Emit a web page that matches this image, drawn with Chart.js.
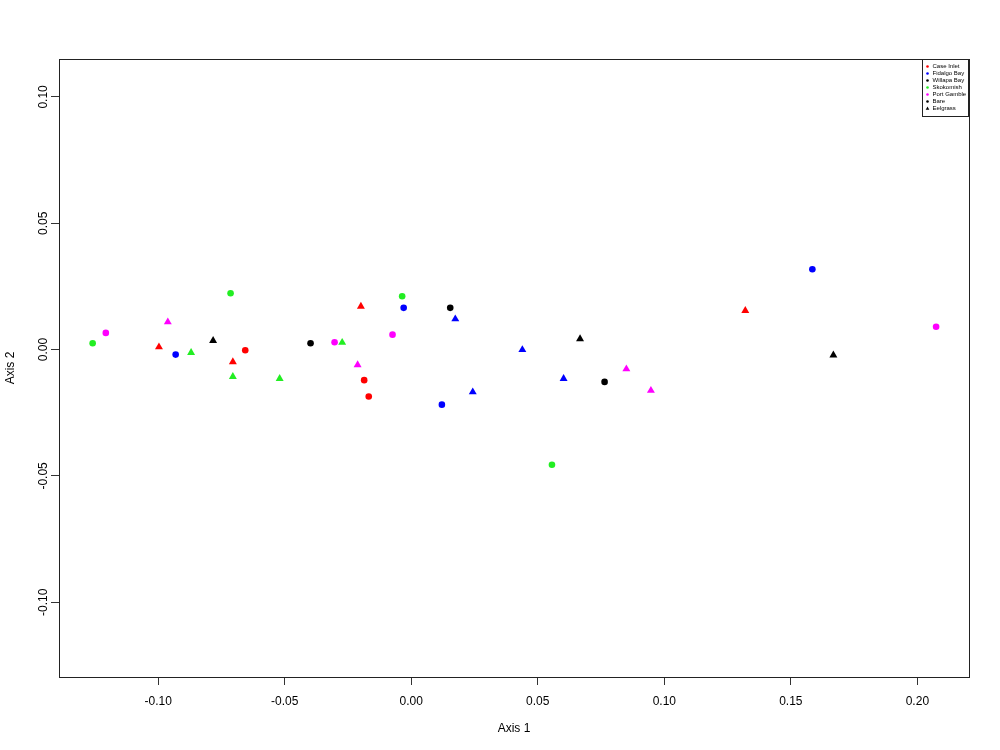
<!DOCTYPE html>
<html>
<head>
<meta charset="utf-8">
<script src="https://cdn.jsdelivr.net/npm/chart.js@4"></script>
<style>
  html, body { margin: 0; padding: 0; background: #fff; }
  #wrap { width: 1000px; height: 750px; }
</style>
</head>
<body>
<div id="wrap"><canvas id="chart-pcoa" width="1000" height="750"></canvas></div>
<script>
// Sites and their colours
const sites = ['Case Inlet', 'Fidalgo Bay', 'Willapa Bay', 'Skokomish', 'Port Gamble'];
const siteColors = ['#ff0000', '#0000ff', '#000000', '#22ee22', '#ff00ff'];

// Axis 1 / Axis 2 scores, habitat per point (B = bare, E = eelgrass)
const caseInletX = [-0.0656, -0.0186, -0.0168, -0.0997, -0.0705, -0.0199, 0.1320];
const caseInletY = [-0.0003, -0.0121, -0.0186, 0.0010, -0.0049, 0.0171, 0.0154];
const caseInletHab = ['B', 'B', 'B', 'E', 'E', 'E', 'E'];

const fidalgoX = [-0.0931, -0.0030, 0.0121, 0.1585, 0.0174, 0.0243, 0.0439, 0.0602];
const fidalgoY = [-0.0020, 0.0165, -0.0218, 0.0318, 0.0121, -0.0168, -0.0001, -0.0115];
const fidalgoHab = ['B', 'B', 'B', 'B', 'E', 'E', 'E', 'E'];

const willapaX = [-0.0398, 0.0154, 0.0764, -0.0783, 0.0667, 0.1668];
const willapaY = [0.0025, 0.0165, -0.0128, 0.0035, 0.0042, -0.0022];
const willapaHab = ['B', 'B', 'B', 'E', 'E', 'E'];

const skokomishX = [-0.1259, -0.0714, -0.0036, 0.0556, -0.0870, -0.0705, -0.0520, -0.0273];
const skokomishY = [0.0025, 0.0223, 0.0211, -0.0456, -0.0012, -0.0107, -0.0115, 0.0028];
const skokomishHab = ['B', 'B', 'B', 'B', 'E', 'E', 'E', 'E'];

const gambleX = [-0.1207, -0.0303, -0.0074, 0.2074, -0.0962, -0.0212, 0.0850, 0.0947];
const gambleY = [0.0066, 0.0029, 0.0059, 0.0090, 0.0109, -0.0061, -0.0077, -0.0162];
const gambleHab = ['B', 'B', 'B', 'B', 'E', 'E', 'E', 'E'];

const siteX = [caseInletX, fidalgoX, willapaX, skokomishX, gambleX];
const siteY = [caseInletY, fidalgoY, willapaY, skokomishY, gambleY];
const siteHab = [caseInletHab, fidalgoHab, willapaHab, skokomishHab, gambleHab];

// Tick labels
const xTicks = [-0.10, -0.05, 0.00, 0.05, 0.10, 0.15, 0.20];
const yTicks = [-0.10, -0.05, 0.00, 0.05, 0.10];

// Legend entries
const legendLabels = ['Case Inlet', 'Fidalgo Bay', 'Willapa Bay', 'Skokomish', 'Port Gamble', 'Bare', 'Eelgrass'];
const legendColors = ['#ff0000', '#0000ff', '#000000', '#22ee22', '#ff00ff', '#000000', '#000000'];
const legendShapes = ['circle', 'circle', 'circle', 'circle', 'circle', 'circle', 'triangle'];

const datasets = sites.map((name, i) => ({
  label: name,
  data: siteX[i].map((x, j) => ({ x: x, y: siteY[i][j] })),
  backgroundColor: siteColors[i],
  borderColor: siteColors[i],
  borderWidth: 0,
  pointStyle: ctx => siteHab[i][ctx.dataIndex] === 'E' ? 'triangle' : 'circle',
  pointRadius: ctx => siteHab[i][ctx.dataIndex] === 'E' ? 4.6 : 3.3,
  pointHoverRadius: ctx => siteHab[i][ctx.dataIndex] === 'E' ? 4.6 : 3.3
}));

// frame around the plot + small legend box in top-right corner
const framePlugin = {
  id: 'frame',
  afterDraw(chart) {
    const { ctx, chartArea: a } = chart;
    ctx.save();
    ctx.strokeStyle = '#222';
    ctx.lineWidth = 1;
    ctx.strokeRect(Math.round(a.left) + 0.5, Math.round(a.top) + 0.5,
                   Math.round(a.right - a.left), Math.round(a.bottom - a.top));

    // legend
    const bx = 922.5, by = a.top + 0.5, bw = 46, bh = 57;
    ctx.fillStyle = '#fff';
    ctx.fillRect(bx, by, bw, bh);
    ctx.strokeRect(bx, by, bw, bh);
    ctx.font = '6px "Liberation Sans", Arial, sans-serif';
    ctx.textBaseline = 'middle';
    legendLabels.forEach((lab, i) => {
      const y = by + 7 + i * 7;
      const x = bx + 5;
      ctx.fillStyle = legendColors[i];
      ctx.beginPath();
      if (legendShapes[i] === 'triangle') {
        ctx.moveTo(x, y - 2);
        ctx.lineTo(x + 1.8, y + 1.2);
        ctx.lineTo(x - 1.8, y + 1.2);
        ctx.closePath();
      } else {
        ctx.arc(x, y, 1.3, 0, Math.PI * 2);
      }
      ctx.fill();
      ctx.fillStyle = '#000';
      ctx.fillText(lab, x + 5, y);
    });
    ctx.restore();
  }
};

const tickFont = { family: '"Liberation Sans", Arial, sans-serif', size: 12 };

const configScatter = {
  type: 'scatter',
  data: { datasets: datasets },
  options: {
    responsive: false,
    animation: false,
    layout: { padding: { top: 59, right: 31, left: 0, bottom: 0 } },
    plugins: {
      legend: { display: false },
      tooltip: { enabled: false }
    },
    scales: {
      x: {
        type: 'linear',
        min: -0.1392,
        max: 0.2204,
        afterBuildTicks: s => { s.ticks = xTicks.map(v => ({ value: v })); },
        afterFit: s => { s.height = 73; },
        border: { display: false },
        grid: { drawOnChartArea: false, drawTicks: true, tickLength: 8, color: '#333' },
        ticks: {
          font: tickFont, color: '#000', padding: 9, maxRotation: 0,
          callback: v => v.toFixed(2)
        },
        title: { display: true, text: 'Axis 1', font: tickFont, color: '#000', padding: { top: 0, bottom: 14 } }
      },
      y: {
        type: 'linear',
        min: -0.1296,
        max: 0.115,
        afterBuildTicks: s => { s.ticks = yTicks.map(v => ({ value: v })); },
        afterFit: s => { s.width = 59; },
        border: { display: false },
        grid: { drawOnChartArea: false, drawTicks: true, tickLength: 8, color: '#333' },
        ticks: {
          font: tickFont, color: '#000', minRotation: 90, maxRotation: 90,
          crossAlign: 'center', padding: -6,
          callback: v => v.toFixed(2)
        },
        title: { display: true, text: 'Axis 2', font: tickFont, color: '#000', padding: { top: 3, bottom: 0 } }
      }
    }
  },
  plugins: [framePlugin]
};

const chartScatter = new Chart(document.getElementById('chart-pcoa'), configScatter);
</script>
</body>
</html>
